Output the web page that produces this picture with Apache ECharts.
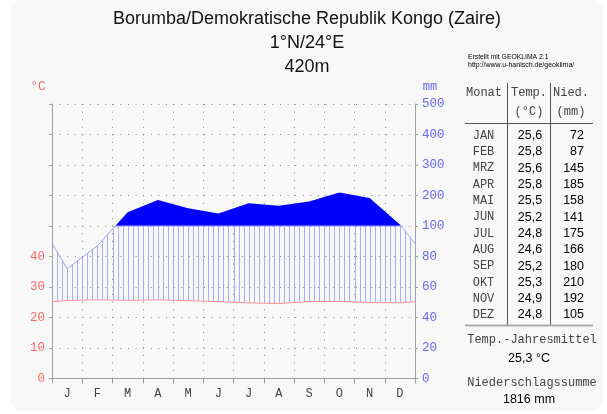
<!DOCTYPE html>
<html><head><meta charset="utf-8">
<script src="https://cdn.jsdelivr.net/npm/echarts@6/dist/echarts.min.js"></script>
<style>html,body{margin:0;padding:0;background:#fff}#c{width:607px;height:414px}</style>
</head><body><div id="c"></div>
<script>
const monthLetters = ['J','F','M','A','M','J','J','A','S','O','N','D'];
const monthNames = ['JAN','FEB','MRZ','APR','MAI','JUN','JUL','AUG','SEP','OKT','NOV','DEZ'];
const tempC = [25.6,25.8,25.6,25.8,25.5,25.2,24.8,24.6,25.2,25.3,24.9,24.8];
const precipMm = [72,87,145,185,158,141,175,166,180,210,192,105];
const leftTickLabels = ['0','10','20','30','40'];
const rightTickLabels = ['0','20','40','60','80','100','200','300','400','500'];
const titleLines = ['Borumba/Demokratische Republik Kongo (Zaire)','1°N/24°E','420m'];
const annualTemp = '25,3 °C';
const annualPrecip = '1816 mm';

const fmt = v => v.toFixed(1).replace('.', ',');
const toUnits = mm => mm <= 100 ? mm / 2 : 50 + (mm - 100) / 10;

// x positions: month centres plus wrap-around edges
const xs = [0].concat(tempC.map((_, i) => i + 0.5), [12]);
const edgeT = (tempC[11] + tempC[0]) / 2;
const edgeU = toUnits((precipMm[11] + precipMm[0]) / 2);
const tExt = [edgeT].concat(tempC, [edgeT]);
const uExt = [edgeU].concat(precipMm.map(toUnits), [edgeU]);

function interp(xa, ya, x) {
  for (let i = 0; i < xa.length - 1; i++) {
    if (x >= xa[i] && x <= xa[i + 1]) {
      const f = (x - xa[i]) / (xa[i + 1] - xa[i]);
      return ya[i] + f * (ya[i + 1] - ya[i]);
    }
  }
  return ya[ya.length - 1];
}
function clipped(level, upper) {
  const pts = [];
  for (let i = 0; i < xs.length; i++) {
    const u = uExt[i];
    pts.push([xs[i], upper ? Math.max(u, level) : Math.min(u, level)]);
    if (i < xs.length - 1) {
      const u2 = uExt[i + 1];
      if ((u - level) * (u2 - level) < 0) {
        const f = (level - u) / (u2 - u);
        pts.push([xs[i] + f * (xs[i + 1] - xs[i]), level]);
      }
    }
  }
  return pts;
}

function renderItem(params, api) {
  if (params.dataIndex !== 0) return;
  const P = p => api.coord(p);
  const children = [];
  // hatch
  for (let k = 1; k < 72; k++) {
    const x = k / 6;
    const t = interp(xs, tExt, x);
    const u = Math.min(interp(xs, uExt, x), 50);
    if (u > t) {
      const a = P([x, t]), b = P([x, u]);
      const px = Math.round(a[0]) + 0.5;
      children.push({type: 'line', shape: {x1: px, y1: a[1], x2: px, y2: b[1]},
        style: {stroke: '#a9abff', lineWidth: 1}});
    }
  }
  // humid (> 100 mm) fill
  const up = clipped(50, true).map(P);
  up.push(P([12, 50])); up.push(P([0, 50]));
  children.push({type: 'polygon', shape: {points: up}, style: {fill: '#0000ff'}});
  // precipitation line below 100 mm
  children.push({type: 'polyline', shape: {points: clipped(50, false).map(P)},
    style: {stroke: '#a0a0ff', lineWidth: 1, fill: null}});
  // temperature line
  children.push({type: 'polyline', shape: {points: xs.map((x, i) => P([x, tExt[i]]))},
    style: {stroke: '#ff9090', lineWidth: 1, fill: null}});
  return {type: 'group', children};
}

const mono = 'Liberation Mono, DejaVu Sans Mono, monospace';
const sans = 'Liberation Sans, Arial, sans-serif';
const graphics = [
  {type: 'rect', z: -10, shape: {x: 11, y: 0, width: 592, height: 411, r: 10}, style: {fill: '#f8f8f8'}}
];
const titleY = [19.5, 43.3, 66.7];
titleLines.forEach((t, i) => graphics.push({type: 'text', x: 307, y: titleY[i],
  style: {text: t, font: '18px ' + sans, fill: '#111', align: 'center', verticalAlign: 'middle'}}));
graphics.push({type: 'text', x: 38, y: 87, style: {text: '°C', font: '13px ' + mono, fill: '#ff6666', align: 'center', verticalAlign: 'middle'}});
graphics.push({type: 'text', x: 430, y: 87, style: {text: 'mm', font: '12px ' + mono, fill: '#6666ff', align: 'center', verticalAlign: 'middle'}});
graphics.push({type: 'text', x: 468, y: 57, style: {text: 'Erstellt mit GEOKLIMA 2.1', font: '6.8px ' + sans, fill: '#000', verticalAlign: 'middle'}});
graphics.push({type: 'text', x: 468, y: 65.5, style: {text: 'http://www.u-hanisch.de/geoklima/', font: '7px ' + sans, fill: '#000', verticalAlign: 'middle'}});
// table header
const hdr = (t, x, y) => graphics.push({type: 'text', x, y, style: {text: t, font: '12px ' + mono, fill: '#444', align: 'center', verticalAlign: 'middle'}});
hdr('Monat', 484, 93); hdr('Temp.', 529, 93); hdr('Nied.', 571, 93);
hdr('(°C)', 529, 112); hdr('(mm)', 571, 112);
graphics.push({type: 'line', shape: {x1: 465, y1: 123.5, x2: 593, y2: 123.5}, style: {stroke: '#555', lineWidth: 1}});
graphics.push({type: 'line', shape: {x1: 507.5, y1: 83, x2: 507.5, y2: 325}, style: {stroke: '#555', lineWidth: 1}});
graphics.push({type: 'line', shape: {x1: 550.5, y1: 83, x2: 550.5, y2: 325}, style: {stroke: '#555', lineWidth: 1}});
graphics.push({type: 'line', shape: {x1: 465, y1: 325.5, x2: 593, y2: 325.5}, style: {stroke: '#aaa', lineWidth: 2}});
monthNames.forEach((m, i) => {
  const y = 135.7 + i * 16.3;
  graphics.push({type: 'text', x: 483.5, y, style: {text: m, font: '12px ' + mono, fill: '#444', align: 'center', verticalAlign: 'middle'}});
  graphics.push({type: 'text', x: 530, y, style: {text: fmt(tempC[i]), font: '12.5px ' + sans, fill: '#000', align: 'center', verticalAlign: 'middle'}});
  graphics.push({type: 'text', x: 584, y, style: {text: String(precipMm[i]), font: '12.5px ' + sans, fill: '#000', align: 'right', verticalAlign: 'middle'}});
});
graphics.push({type: 'text', x: 532, y: 340, style: {text: 'Temp.-Jahresmittel', font: '12px ' + mono, fill: '#444', align: 'center', verticalAlign: 'middle'}});
graphics.push({type: 'text', x: 529, y: 359, style: {text: annualTemp, font: '12.5px ' + sans, fill: '#000', align: 'center', verticalAlign: 'middle'}});
graphics.push({type: 'text', x: 532, y: 383, style: {text: 'Niederschlagssumme', font: '12px ' + mono, fill: '#444', align: 'center', verticalAlign: 'middle'}});
graphics.push({type: 'text', x: 529, y: 400, style: {text: annualPrecip, font: '12.5px ' + sans, fill: '#000', align: 'center', verticalAlign: 'middle'}});

const dotted = {color: '#8a8a8a', width: 1, type: [1, 6.6]};
const chart = echarts.init(document.getElementById('c'), null, {renderer: 'canvas'});
chart.setOption({
  animation: false,
  backgroundColor: '#ffffff',
  graphic: graphics,
  grid: {left: 52, top: 104, width: 363, height: 274.5, containLabel: false},
  xAxis: [
    {type: 'category', data: monthLetters, boundaryGap: true, position: 'bottom',
     axisLine: {show: true, lineStyle: {color: '#a0a0a0', width: 1}},
     axisTick: {show: true, length: 5, lineStyle: {color: '#a0a0a0'}},
     axisLabel: {color: '#444', fontFamily: mono, fontSize: 12, margin: 9},
     splitLine: {show: true, lineStyle: dotted}},
    {type: 'value', min: 0, max: 12, show: false}
  ],
  yAxis: [
    {type: 'value', min: 0, max: 90, interval: 10, position: 'left',
     axisLine: {show: true, lineStyle: {color: '#a0a0a0', width: 1}},
     axisTick: {show: true, length: 3, lineStyle: {color: '#a0a0a0'}},
     axisLabel: {color: '#ff6666', fontFamily: mono, fontSize: 12.5, margin: 7,
       formatter: (v) => { const i = Math.round(v / 10); return i < leftTickLabels.length ? leftTickLabels[i] : ''; }},
     splitLine: {show: true, lineStyle: dotted}},
    {type: 'value', min: 0, max: 90, interval: 10, position: 'right',
     axisLine: {show: true, lineStyle: {color: '#a0a0a0', width: 1}},
     axisTick: {show: true, length: 3, lineStyle: {color: '#a0a0a0'}},
     axisLabel: {color: '#6666ff', fontFamily: mono, fontSize: 12.5, margin: 7, align: 'left',
       formatter: (v) => rightTickLabels[Math.round(v / 10)] || ''},
     splitLine: {show: false}}
  ],
  series: [{type: 'custom', coordinateSystem: 'cartesian2d', xAxisIndex: 1, yAxisIndex: 0,
    renderItem, data: [[0, 0]], silent: true, z: 3}]
});
</script></body></html>
